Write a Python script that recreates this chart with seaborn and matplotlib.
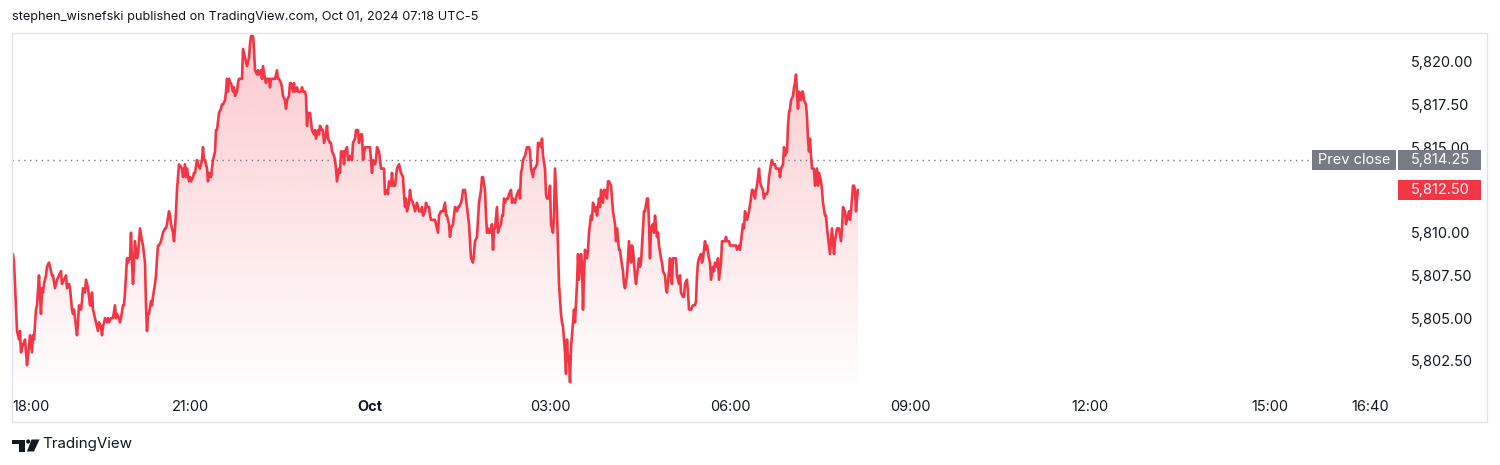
import numpy as np
import pandas as pd
import seaborn as sns
import matplotlib
matplotlib.use("Agg")
import matplotlib.pyplot as plt
import matplotlib.colors as mcolors
from matplotlib import transforms
from matplotlib.patches import Rectangle, Polygon, Circle

# ES futures, 1-minute closes; minutes counted from 18:00 (Sep 30)
minutes = [
    3, 4, 5, 7, 8, 9, 10, 11, 13, 14, 15, 17, 18, 20, 22, 23, 24, 26, 27, 29,
    30, 31, 32, 33, 34, 36, 37, 39, 40, 42, 43, 45, 47, 49, 51, 52, 54, 56, 57, 59,
    60, 62, 63, 64, 66, 67, 68, 69, 71, 72, 73, 75, 76, 77, 78, 80, 81, 82, 83, 85,
    87, 88, 89, 91, 92, 93, 95, 97, 98, 99, 101, 102, 103, 105, 106, 107, 109, 110, 111, 113,
    114, 115, 116, 117, 118, 119, 120, 121, 122, 123, 124, 125, 127, 128, 129, 130, 132, 133, 135, 136,
    137, 138, 139, 141, 142, 143, 145, 146, 147, 148, 149, 151, 152, 153, 155, 156, 157, 159, 160, 161,
    163, 164, 165, 166, 167, 168, 169,
    172, 173, 175, 176, 177, 179, 180, 181, 183, 184, 185, 187, 188, 190, 192, 193, 194, 195, 197, 198,
    199, 201, 202, 203, 205, 206, 207, 208, 209, 211, 212, 213, 215, 216, 217, 218, 219, 220, 221, 223,
    224, 225, 227, 228, 229, 231, 232, 233, 235, 236, 237, 239, 240, 241, 243, 244, 245, 247, 248, 249,
    251, 252, 253, 255, 256, 257, 259, 260, 261, 263, 264, 265, 267, 268, 269, 271, 272, 273, 275, 276,
    277, 279, 280, 281, 283, 284, 285, 287, 288, 289, 291, 292, 293, 295, 296, 297, 298, 300, 301, 302,
    304, 305, 306, 308, 309, 310, 312, 313, 314, 316, 317, 318, 320, 321, 322, 324, 325, 326, 327, 329,
    330, 331, 333, 334, 335, 337, 338, 339,
    340, 342, 343, 345, 346, 348, 349, 351, 352, 353, 355, 356, 357, 359, 360, 361, 362, 363, 365, 366,
    367, 369, 370, 371, 373, 374, 375, 377, 378, 379, 381, 382, 383, 385, 386, 387, 389, 390, 391, 393,
    394, 395, 396, 397, 399, 400, 401, 403, 404, 405, 407, 408, 409, 411, 412, 413, 415, 416, 417, 419,
    420, 421, 423, 424, 425, 427, 428, 429, 431, 432, 433, 435, 436, 437, 439, 440, 441, 443, 444, 445,
    447, 448, 449, 451, 452, 453, 455, 456, 457, 459, 460, 461, 463, 464, 465, 467, 468, 469, 471, 472,
    473, 475, 476, 477, 478, 479, 480, 482, 483, 484, 485, 487, 488, 489, 491, 492, 493, 494, 495, 497,
    498, 499, 501, 502, 503, 505, 506, 507, 509,
    510, 511, 512, 513, 515, 516, 517, 519, 520, 521, 523, 524, 525, 527, 528, 529, 531, 532, 533, 535,
    536, 537, 539, 540, 541, 543, 544, 545, 547, 548, 549, 551, 552, 553, 555, 556, 557, 558, 559, 560,
    561, 563, 564, 565, 567, 568, 569, 571, 572, 573, 574, 575, 577, 578, 579, 581, 582, 583, 585, 586,
    587, 589, 590, 591, 593, 594, 595, 597, 598, 599, 601, 602, 603, 605, 606, 607, 609, 610, 611, 613,
    614, 615, 617, 618, 619, 621, 622, 623, 625, 626, 627, 629, 630, 631, 633, 634, 635, 637, 638, 639,
    640, 641, 643, 644, 645, 647, 648, 649, 651, 652, 653, 655, 656, 657, 659, 660, 661, 662, 663, 665,
    666, 667, 669, 670, 671, 673, 674, 675, 677, 678, 679,
    681, 683, 685, 686, 687, 688, 689, 691, 692, 693, 695, 696, 697, 699, 700, 701, 703, 704, 705, 707,
    708, 709, 711, 712, 713, 715, 716, 717, 719, 720, 722, 724, 726, 727, 729, 730, 731, 733, 734, 735,
    737, 738, 739, 741, 742, 743, 745, 746, 747, 749, 750, 751, 753, 754, 755, 757, 758, 759, 761, 762,
    763, 765, 766, 767, 769, 770, 771, 773, 774, 775, 777, 778, 779, 780, 781, 783, 784, 785, 786, 787,
    788, 789, 791, 792, 793, 794, 796, 797, 798, 799, 800, 801, 802, 803, 804, 805, 807, 808, 809, 811,
    812, 813, 815, 816, 817, 819, 820, 821, 822, 823, 824, 825, 827, 828, 829, 831, 832, 833, 835, 836,
    837, 839, 840, 841, 843, 844, 845, 846, 847, 848,
]
prices = [
    5808.75, 5808.25, 5807.0, 5804.25, 5804.0, 5803.75, 5804.25, 5803.0, 5803.5, 5803.5,
    5803.75, 5802.25, 5802.75, 5804.0, 5803.0, 5804.0, 5803.75, 5805.5, 5805.75, 5807.5,
    5806.25, 5805.25, 5806.75, 5806.5, 5807.0, 5807.5, 5808.0, 5808.25, 5808.0, 5807.5,
    5807.5, 5806.75, 5807.25, 5807.5, 5807.75, 5807.0, 5807.25, 5807.5, 5806.75, 5807.0,
    5806.75, 5805.5, 5805.25, 5805.5, 5804.5, 5804.0, 5804.75, 5805.75, 5805.5, 5806.0,
    5806.75, 5806.5, 5807.25, 5807.0, 5806.75, 5805.75, 5805.75, 5806.5, 5805.5, 5805.0,
    5804.5, 5804.25, 5804.75, 5804.5, 5804.0, 5804.5, 5805.0, 5804.75, 5805.0, 5804.75,
    5805.0, 5805.0, 5805.0, 5805.75, 5805.0, 5805.25, 5805.0, 5804.75, 5805.0, 5805.75,
    5805.75, 5806.5, 5807.5, 5808.5, 5808.25, 5808.5, 5808.5, 5810.0, 5808.25, 5807.0,
    5808.25, 5809.5, 5808.5, 5808.75, 5809.5, 5810.25, 5809.5, 5809.25, 5808.25, 5805.75,
    5804.25, 5805.25, 5805.25, 5806.0, 5805.75, 5806.25, 5807.0, 5807.5, 5808.5, 5809.25,
    5809.25, 5809.5, 5809.75, 5810.0, 5810.25, 5810.25, 5810.5, 5811.25, 5811.0, 5810.5,
    5810.0, 5809.5, 5810.25, 5811.25, 5812.5, 5813.25, 5814.0,
    5813.75, 5813.25, 5814.0, 5813.25, 5813.75, 5813.0, 5813.25, 5813.0, 5813.25, 5813.5,
    5813.5, 5814.25, 5814.0, 5813.75, 5814.25, 5815.0, 5814.25, 5814.25, 5813.75, 5813.0,
    5813.5, 5813.25, 5813.75, 5814.25, 5814.75, 5816.0, 5816.0, 5816.5, 5817.0, 5817.25,
    5817.5, 5817.5, 5817.75, 5818.25, 5819.0, 5818.25, 5819.0, 5818.75, 5818.75, 5818.25,
    5818.5, 5818.0, 5818.25, 5818.75, 5819.0, 5819.0, 5819.0, 5820.75, 5820.25, 5820.0,
    5819.75, 5820.25, 5821.0, 5821.5, 5821.5, 5820.75, 5819.5, 5819.25, 5819.5, 5819.25,
    5819.5, 5819.0, 5819.75, 5819.0, 5818.75, 5819.0, 5819.0, 5818.5, 5819.0, 5819.0,
    5819.0, 5819.0, 5819.5, 5819.0, 5819.0, 5818.75, 5818.5, 5818.0, 5817.75, 5817.25,
    5817.75, 5818.0, 5818.75, 5818.75, 5818.25, 5818.75, 5818.25, 5818.5, 5818.25, 5818.25,
    5818.25, 5818.5, 5818.25, 5818.25, 5818.0, 5816.25, 5817.0, 5817.0, 5816.5, 5816.0,
    5815.75, 5816.0, 5815.5, 5816.0, 5815.75, 5816.25, 5816.0, 5816.0, 5815.25, 5815.75,
    5816.25, 5815.5, 5815.25, 5815.25, 5814.75, 5814.5, 5814.25, 5813.75, 5813.0, 5813.75,
    5813.5, 5814.75, 5814.75, 5814.0, 5814.75, 5815.0, 5814.25, 5814.25,
    5814.5, 5814.25, 5815.25, 5815.5, 5816.0, 5816.0, 5815.25, 5815.75, 5815.75, 5814.25,
    5815.0, 5815.0, 5815.0, 5815.0, 5815.0, 5814.25, 5813.5, 5814.25, 5814.0, 5814.25,
    5815.0, 5814.75, 5814.25, 5813.75, 5813.75, 5813.75, 5812.25, 5812.5, 5812.25, 5813.0,
    5812.75, 5813.5, 5812.75, 5812.75, 5813.25, 5813.75, 5814.0, 5813.75, 5813.5, 5813.25,
    5812.25, 5811.5, 5812.0, 5811.25, 5811.75, 5812.5, 5812.0, 5811.75, 5811.5, 5811.25,
    5811.75, 5811.5, 5811.25, 5811.25, 5811.5, 5811.0, 5811.25, 5811.75, 5811.5, 5811.5,
    5811.0, 5810.75, 5810.75, 5810.75, 5810.75, 5810.25, 5810.0, 5811.0, 5811.25, 5811.25,
    5811.25, 5811.75, 5811.0, 5811.0, 5810.5, 5809.75, 5810.25, 5810.5, 5811.0, 5811.5,
    5811.25, 5811.5, 5811.5, 5811.75, 5812.0, 5812.5, 5812.5, 5812.0, 5811.5, 5810.5,
    5809.5, 5808.5, 5808.25, 5808.75, 5809.5, 5809.75, 5810.75, 5811.75, 5812.5, 5813.25,
    5813.25, 5812.5, 5811.0, 5810.0, 5810.25, 5810.0, 5810.0, 5810.5, 5809.0, 5810.25,
    5810.25, 5811.5, 5810.0, 5810.25, 5810.5, 5811.0, 5811.0, 5812.0, 5811.75, 5812.0,
    5812.0, 5812.25, 5812.5, 5811.75, 5812.0, 5811.75, 5812.0, 5812.25, 5812.5,
    5812.0, 5813.5, 5813.75, 5814.25, 5814.5, 5814.75, 5815.0, 5815.0, 5814.75, 5813.75,
    5813.25, 5813.75, 5813.75, 5814.0, 5815.25, 5815.25, 5815.0, 5815.5, 5814.5, 5813.75,
    5812.25, 5812.0, 5812.0, 5812.75, 5810.5, 5810.0, 5811.0, 5813.75, 5811.25, 5809.0,
    5807.0, 5805.25, 5804.75, 5804.5, 5803.0, 5801.75, 5803.75, 5802.5, 5802.75, 5801.25,
    5803.25, 5804.75, 5805.5, 5804.75, 5807.0, 5808.75, 5807.25, 5808.75, 5808.25, 5805.5,
    5807.5, 5809.0, 5808.5, 5809.0, 5810.0, 5811.0, 5810.75, 5811.75, 5811.25, 5811.5,
    5811.0, 5812.0, 5811.5, 5812.5, 5811.75, 5812.5, 5812.5, 5812.0, 5813.0, 5813.0,
    5812.75, 5812.0, 5811.25, 5810.5, 5809.5, 5810.25, 5809.0, 5809.0, 5808.5, 5807.75,
    5807.0, 5806.75, 5807.5, 5808.5, 5809.5, 5808.25, 5809.25, 5809.0, 5807.5, 5807.0,
    5807.5, 5808.5, 5808.0, 5808.25, 5810.25, 5811.25, 5811.25, 5812.0, 5812.0, 5810.5,
    5808.5, 5810.25, 5810.5, 5810.0, 5811.0, 5809.75, 5810.0, 5809.25, 5808.5, 5808.25,
    5807.75, 5807.5, 5806.75, 5806.5, 5807.75, 5808.5, 5807.5, 5807.0, 5808.5, 5808.5,
    5808.5, 5807.5, 5807.0, 5807.5, 5806.5, 5806.25, 5806.25, 5807.0, 5807.25, 5806.5,
    5805.5,
    5805.5, 5805.75, 5805.75, 5806.0, 5807.5, 5808.25, 5808.5, 5808.75, 5808.25, 5808.5,
    5809.5, 5809.0, 5809.25, 5808.5, 5808.25, 5807.25, 5808.0, 5807.75, 5808.25, 5808.0,
    5808.5, 5807.25, 5808.25, 5809.5, 5809.5, 5809.5, 5809.75, 5809.5, 5809.5, 5809.25,
    5809.25, 5809.25, 5809.25, 5809.0, 5809.25, 5809.0, 5809.5, 5810.5, 5810.25, 5811.25,
    5810.75, 5811.0, 5811.25, 5812.0, 5812.5, 5812.5, 5812.0, 5812.5, 5812.75, 5813.75,
    5813.0, 5812.75, 5812.5, 5812.0, 5812.25, 5812.25, 5812.5, 5813.25, 5814.0, 5814.25,
    5814.0, 5814.0, 5813.75, 5813.75, 5813.75, 5813.25, 5813.75, 5814.0, 5815.0, 5814.5,
    5814.75, 5816.25, 5817.0, 5817.25, 5817.75, 5818.0, 5818.5, 5818.75, 5819.25, 5818.25,
    5817.25, 5818.25, 5817.75, 5818.25, 5818.25, 5817.75, 5817.5, 5816.75, 5815.5, 5814.75,
    5815.5, 5814.5, 5813.75, 5813.75, 5813.75, 5812.75, 5813.75, 5812.75, 5813.5, 5813.0,
    5812.5, 5811.75, 5811.0, 5811.0, 5810.25, 5809.25, 5808.75, 5809.5, 5810.25, 5809.5,
    5808.75, 5809.5, 5810.25, 5810.25, 5810.25, 5809.5, 5810.25, 5811.5, 5811.25, 5810.5,
    5810.75, 5811.25, 5810.75, 5811.25, 5812.75, 5812.75, 5812.5, 5811.25, 5812.0, 5812.5,
]

prev_close = 5814.25
last_price = 5812.50
price_ticks = [5802.5, 5805.0, 5807.5, 5810.0, 5812.5, 5815.0, 5817.5, 5820.0]
time_ticks = [0, 180, 360, 540, 720, 900, 1080, 1260, 1360]
time_labels = ["18:00", "21:00", "Oct", "03:00", "06:00", "09:00", "12:00", "15:00", "16:40"]
title = "stephen_wisnefski published on TradingView.com, Oct 01, 2024 07:18 UTC-5"

RED = "#f23645"
GRAY = "#787b86"
TXT = "#131722"

sns.set_theme(style="white")
plt.rcParams["font.family"] = ["Inter", "DejaVu Sans"]

W, H = 1500, 465
fig = plt.figure(figsize=(W / 100, H / 100), dpi=100)
fig.patch.set_facecolor("white")


def fx(x):
    return x / W


def fy(y):
    return 1 - y / H


# plotting pane (pixel box 12..1395 x 33..392)
ax = fig.add_axes([fx(12), fy(392), fx(1395 - 12), (392 - 33) / H])
ax.set_facecolor("white")

df = pd.DataFrame({"minute": minutes, "price": prices})
x0, x1 = 2, 1385
y0, y1 = 5800.68, 5821.68

# gradient area under the line
rgba = np.zeros((256, 1, 4))
rgba[..., :3] = mcolors.to_rgb(RED)
rgba[:, 0, 3] = np.linspace(0.27, 0.0, 256)
im = ax.imshow(rgba, aspect="auto", extent=[x0, x1, y0, y1], origin="upper",
               zorder=1, interpolation="bilinear")
verts = np.column_stack([
    np.r_[df["minute"].iloc[0], df["minute"], df["minute"].iloc[-1]],
    np.r_[y0, df["price"], y0],
])
clip = Polygon(verts, closed=True, facecolor="none", edgecolor="none",
               transform=ax.transData)
ax.add_patch(clip)
im.set_clip_path(clip)

# previous close dotted line
ax.axhline(prev_close, xmin=0, xmax=(1311 - 12) / (1395 - 12), color=GRAY,
           lw=1.0, linestyle=(0, (1, 3.2)), zorder=2)

sns.lineplot(data=df, x="minute", y="price", ax=ax, color=RED, lw=1.9,
             estimator=None, sort=False, zorder=3)

ax.set_xlim(x0, x1)
ax.set_ylim(y0, y1)
ax.set_xlabel("")
ax.set_ylabel("")
for s in ax.spines.values():
    s.set_visible(False)
ax.grid(False)

# axes ticks
ax.yaxis.tick_right()
ax.set_yticks(price_ticks)
ax.set_yticklabels([f"{v:,.2f}" for v in price_ticks])
ax.tick_params(axis="y", length=0, pad=11.5, labelsize=10.5, labelcolor=TXT)

ax.set_xticks([max(t, x0) for t in time_ticks])
ax.set_xticklabels(time_labels)
ax.tick_params(axis="x", length=0, pad=6, labelsize=10.5, labelcolor=TXT)
xt = ax.get_xticklabels()
xt[0].set_horizontalalignment("left")
xt[2].set_fontweight("bold")

# price labels on the scale
bt = transforms.blended_transform_factory(fig.transFigure, ax.transData)
half = 10.3 / 17.1
fig.patches.append(Rectangle((fx(1312), prev_close - half), fx(1396 - 1312), 2 * half,
                             transform=bt, facecolor=GRAY, edgecolor="none", zorder=5))
fig.patches.append(Rectangle((fx(1398), prev_close - half), fx(1481 - 1398), 2 * half,
                             transform=bt, facecolor=GRAY, edgecolor="none", zorder=5))
fig.patches.append(Rectangle((fx(1398), last_price - half), fx(1481 - 1398), 2 * half,
                             transform=bt, facecolor=RED, edgecolor="none", zorder=5))
fig.text(fx(1354), prev_close, "Prev close", transform=bt, ha="center", va="center",
         color="white", fontsize=10.5, zorder=6)
fig.text(fx(1411), prev_close, f"{prev_close:,.2f}", transform=bt, ha="left", va="center",
         color="white", fontsize=10.5, zorder=6)
fig.text(fx(1411), last_price, f"{last_price:,.2f}", transform=bt, ha="left", va="center",
         color="white", fontsize=10.5, zorder=6)

# chart frame
fig.patches.append(Rectangle((fx(12), fy(422)), fx(1487 - 12), (422 - 33) / H,
                             transform=fig.transFigure, fill=False,
                             edgecolor="#e0e3eb", lw=1, zorder=0))

# header and footer
fig.text(fx(12), fy(17), title, ha="left", va="center", fontsize=9.2, color=TXT)

logo = [
    Rectangle((fx(12.3), fy(443.5)), fx(12.5), 4 / H),
    Rectangle((fx(19), fy(451.5)), fx(6), 12 / H),
    Polygon([(fx(31.5), fy(439.5)), (fx(39.5), fy(439.5)),
             (fx(34), fy(451.5)), (fx(27), fy(451.5))]),
]
for p in logo:
    p.set_transform(fig.transFigure)
    p.set_facecolor(TXT)
    p.set_edgecolor("none")
    fig.patches.append(p)
dot = Circle((28.2, H - 441.5), 2.1, transform=None, facecolor=TXT, edgecolor="none")
fig.patches.append(dot)
fig.text(fx(42), fy(444), "TradingView", ha="left", va="center", fontsize=10.9, color=TXT)

fig.savefig("out.png", dpi=100, facecolor="white")
